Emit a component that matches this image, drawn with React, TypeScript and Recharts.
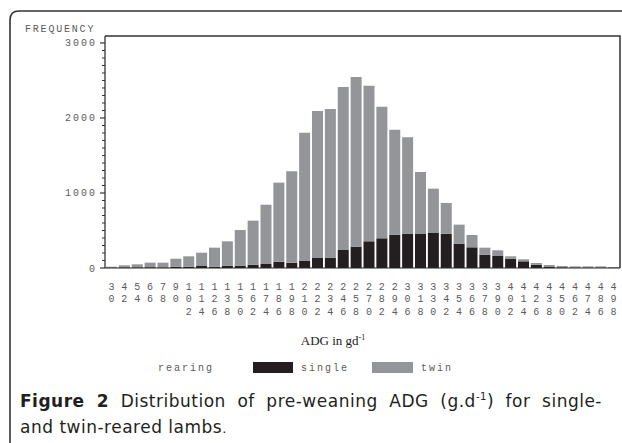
import React from 'react';
import { BarChart, Bar, XAxis, YAxis } from 'recharts';

const categories = [30, 42, 54, 66, 78, 90, 102, 114, 126, 138, 150, 162, 174, 186, 198, 210, 222, 234, 246, 258, 270, 282, 294, 306, 318, 330, 342, 354, 366, 378, 390, 402, 414, 426, 438, 450, 462, 474, 486, 498];
const singleValues = [5, 8, 8, 10, 8, 17, 17, 27, 17, 31, 31, 44, 53, 82, 69, 98, 133, 138, 240, 284, 356, 396, 444, 458, 453, 467, 456, 325, 276, 178, 160, 124, 89, 44, 13, 8, 4, 4, 4, 4];
const twinValues = [12, 28, 41, 61, 63, 107, 139, 177, 254, 325, 476, 587, 791, 1056, 1222, 1706, 1960, 1982, 2173, 2263, 2075, 1755, 1400, 1284, 827, 591, 411, 253, 164, 93, 76, 32, 27, 23, 27, 19, 18, 18, 18, 9];
const yMajorTicks = [0, 1000, 2000, 3000];
const yMinorStep = 100;
const yDomainMax = 3093;

const data = categories.map((c, i) => ({ adg: String(c), single: singleValues[i], twin: twinValues[i] }));
const yTicks = Array.from({ length: 3000 / yMinorStep + 1 }, (_, i) => i * yMinorStep);

const MONO = '"Liberation Mono", "DejaVu Sans Mono", monospace';
const TXT = '#5a5a5a';

function XTick(props: any) {
  const { x, y, payload } = props;
  const digits = String(payload.value).split('');
  return (
    <g>
      {digits.map((d, i) => (
        <text key={i} x={x} y={y + 22 + i * 12.3} textAnchor="middle" fontFamily={MONO} fontSize={10} fill={TXT}>
          {d}
        </text>
      ))}
    </g>
  );
}

function YTick(props: any) {
  const { x, y, payload } = props;
  const v = payload.value;
  const major = yMajorTicks.includes(v);
  return (
    <g>
      <line x1={x - (major ? 5 : 3)} x2={x} y1={y} y2={y} stroke="#333" strokeWidth={major ? 1.2 : 1} />
      {major && (
        <text x={x - 8} y={y + 3.5} textAnchor="end" fontFamily={MONO} fontSize={10} letterSpacing={2} fill={TXT}>
          {v}
        </text>
      )}
    </g>
  );
}

export default function App() {
  return (
    <div style={{ position: 'absolute', left: 0, top: 0, width: 622, height: 443, background: '#fff', overflow: 'hidden' }}>
      <div style={{ position: 'absolute', left: 0, top: 0 }}>
        <BarChart width={622} height={443} data={data} margin={{ top: 36, right: 2, bottom: 115, left: 0 }} barCategoryGap={1}>
          <XAxis
            dataKey="adg"
            interval={0}
            tick={<XTick />}
            tickLine={false}
            tickSize={0}
            tickMargin={0}
            height={60}
            axisLine={{ stroke: '#222', strokeWidth: 1.2 }}
          />
          <YAxis
            type="number"
            domain={[0, yDomainMax]}
            ticks={yTicks}
            interval={0}
            tick={<YTick />}
            tickLine={false}
            tickSize={0}
            tickMargin={0}
            width={105}
            axisLine={{ stroke: '#222', strokeWidth: 1.2 }}
            allowDataOverflow
          />
          <Bar dataKey="single" stackId="a" fill="#231f20" isAnimationActive={false} />
          <Bar dataKey="twin" stackId="a" fill="#939598" isAnimationActive={false} />
        </BarChart>
      </div>
      <svg width={622} height={443} style={{ position: 'absolute', left: 0, top: 0, pointerEvents: 'none' }}>
        <path d="M 10 450 L 10 20 Q 10 11 19 11 L 640 11" fill="none" stroke="#333" strokeWidth={1.6} />
        <path d="M 105 36 L 620 36 L 620 268" fill="none" stroke="#333" strokeWidth={1.5} />
        <text x={25} y={32} fontFamily={MONO} fontSize={10} letterSpacing={1.8} fill={TXT}>FREQUENCY</text>
        <text x={333} y={345} textAnchor="middle" fontFamily='"Liberation Serif", "Times New Roman", serif' fontSize={13} fill="#222">
          ADG in gd<tspan fontSize={8} dy={-5}>-1</tspan>
        </text>
        <text x={158} y={371} fontFamily={MONO} fontSize={10} letterSpacing={2} fill={TXT}>rearing</text>
        <rect x={253} y={362} width={40} height={11} fill="#231f20" />
        <text x={301} y={371} fontFamily={MONO} fontSize={10} letterSpacing={2} fill={TXT}>single</text>
        <rect x={372} y={362} width={41} height={11} fill="#939598" />
        <text x={421} y={371} fontFamily={MONO} fontSize={10} letterSpacing={2} fill={TXT}>twin</text>
      </svg>
      <div style={{ position: 'absolute', left: 20, top: 388, width: 582, fontFamily: '"DejaVu Sans", "Noto Sans", sans-serif', fontSize: 17, letterSpacing: 0.5, lineHeight: '26px', color: '#231f20' }}>
        <div style={{ textAlign: 'justify', textAlignLast: 'justify', whiteSpace: 'nowrap' }}>
          <b>Figure 2</b> Distribution of pre-weaning ADG (g.d<sup style={{ fontSize: 10, lineHeight: 0 }}>-1</sup>) for single-
        </div>
        <div>and twin-reared lambs<span style={{ fontSize: 13 }}>.</span></div>
      </div>
    </div>
  );
}
